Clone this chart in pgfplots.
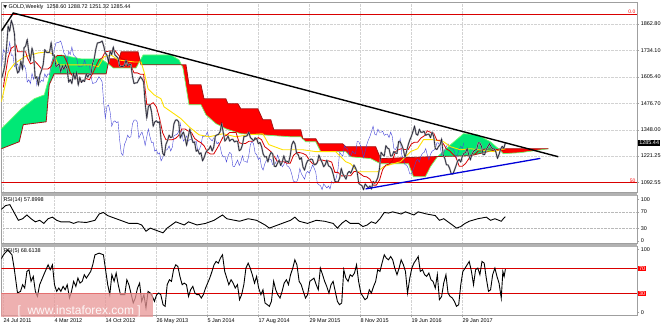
\documentclass[border=0pt]{standalone}
\usepackage{fontspec}
\setmainfont{Liberation Sans}
\newfontfamily\dejavu{DejaVu Sans}
\usepackage{pgfplots}
\usepackage{pgfplotstable}
\usepgfplotslibrary{fillbetween}
\pgfplotsset{compat=1.18}
\definecolor{cgreen}{RGB}{0,232,118}
\definecolor{cred}{RGB}{255,0,0}
\definecolor{tenkan}{RGB}{215,0,0}
\definecolor{kijun}{RGB}{255,225,0}
\definecolor{spanb}{RGB}{165,20,20}
\definecolor{spana}{RGB}{110,250,110}
\definecolor{chikou}{RGB}{70,70,215}
\definecolor{candle}{RGB}{35,35,55}
\definecolor{wm}{RGB}{232,150,150}
\newcommand{\tf}{\fontsize{5.5}{6.5}\selectfont}

\pgfplotstableread[row sep=\\]{
w c\\
-1 1601\\ 0 1628\\ 1 1663\\ 2 1745\\ 3 1852\\ 4 1828\\ 5 1880\\ 6 1856\\ 7 1813\\ 8 1657\\ 9 1624\\ 10 1636\\
11 1682\\ 12 1642\\ 13 1747\\ 14 1755\\ 15 1788\\ 16 1724\\ 17 1685\\ 18 1746\\ 19 1711\\ 20 1599\\
21 1606\\ 22 1565\\ 23 1616\\ 24 1638\\ 25 1665\\ 26 1738\\ 27 1725\\ 28 1723\\ 29 1725\\ 30 1773\\
31 1710\\ 32 1712\\ 33 1655\\ 34 1662\\ 35 1668\\ 36 1630\\ 37 1659\\ 38 1642\\ 39 1663\\ 40 1645\\
41 1580\\ 42 1592\\ 43 1573\\ 44 1622\\ 45 1594\\ 46 1627\\ 47 1565\\ 48 1604\\ 49 1578\\ 50 1590\\
51 1583\\ 52 1620\\ 53 1604\\ 54 1620\\ 55 1617\\ 56 1671\\ 57 1692\\ 58 1739\\ 59 1770\\ 60 1772\\
61 1774\\ 62 1780\\ 63 1755\\ 64 1722\\ 65 1711\\ 66 1678\\ 67 1730\\ 68 1714\\ 69 1751\\ 70 1712\\
71 1705\\ 72 1696\\ 73 1657\\ 74 1656\\ 75 1656\\ 76 1661\\ 77 1687\\ 78 1659\\ 79 1667\\ 80 1666\\
81 1609\\ 82 1573\\ 83 1576\\ 84 1577\\ 85 1592\\ 86 1606\\ 87 1596\\ 88 1581\\ 89 1477\\ 90 1404\\
91 1462\\ 92 1469\\ 93 1435\\ 94 1365\\ 95 1386\\ 96 1392\\ 97 1383\\ 98 1387\\ 99 1297\\ 100 1234\\
101 1223\\ 102 1277\\ 103 1295\\ 104 1322\\ 105 1310\\ 106 1314\\ 107 1376\\ 108 1395\\ 109 1396\\ 110 1387\\
111 1308\\ 112 1325\\ 113 1337\\ 114 1310\\ 115 1272\\ 116 1315\\ 117 1352\\ 118 1314\\ 119 1286\\ 120 1288\\
121 1244\\ 122 1251\\ 123 1230\\ 124 1236\\ 125 1197\\ 126 1213\\ 127 1237\\ 128 1248\\ 129 1254\\ 130 1270\\
131 1245\\ 132 1263\\ 133 1318\\ 134 1323\\ 135 1326\\ 136 1339\\ 137 1379\\ 138 1334\\ 139 1293\\ 140 1303\\
141 1318\\ 142 1293\\ 143 1301\\ 144 1302\\ 145 1289\\ 146 1293\\ 147 1292\\ 148 1246\\ 149 1252\\ 150 1274\\
151 1316\\ 152 1316\\ 153 1320\\ 154 1337\\ 155 1310\\ 156 1303\\ 157 1294\\ 158 1309\\ 159 1304\\ 160 1280\\
161 1287\\ 162 1267\\ 163 1231\\ 164 1216\\ 165 1218\\ 166 1192\\ 167 1222\\ 168 1238\\ 169 1231\\ 170 1171\\
171 1169\\ 172 1185\\ 173 1201\\ 174 1175\\ 175 1192\\ 176 1222\\ 177 1195\\ 178 1195\\ 179 1189\\ 180 1223\\
181 1276\\ 182 1293\\ 183 1279\\ 184 1234\\ 185 1227\\ 186 1204\\ 187 1213\\ 188 1167\\ 189 1152\\ 190 1182\\
191 1199\\ 192 1201\\ 193 1206\\ 194 1203\\ 195 1178\\ 196 1179\\ 197 1189\\ 198 1225\\ 199 1205\\ 200 1190\\
201 1168\\ 202 1179\\ 203 1201\\ 204 1173\\ 205 1168\\ 206 1157\\ 207 1131\\ 208 1098\\ 209 1095\\ 210 1094\\
211 1113\\ 212 1160\\ 213 1134\\ 214 1121\\ 215 1108\\ 216 1137\\ 217 1146\\ 218 1137\\ 219 1156\\ 220 1177\\
221 1162\\ 222 1142\\ 223 1088\\ 224 1081\\ 225 1076\\ 226 1057\\ 227 1085\\ 228 1075\\ 229 1065\\ 230 1075\\
231 1060\\ 232 1097\\ 233 1088\\ 234 1098\\ 235 1117\\ 236 1158\\ 237 1239\\ 238 1227\\ 239 1221\\ 240 1271\\
241 1259\\ 242 1255\\ 243 1220\\ 244 1222\\ 245 1243\\ 246 1235\\ 247 1233\\ 248 1291\\ 249 1290\\ 250 1273\\
251 1252\\ 252 1213\\ 253 1243\\ 254 1275\\ 255 1298\\ 256 1316\\ 257 1340\\ 258 1366\\ 259 1327\\ 260 1322\\
261 1351\\ 262 1336\\ 263 1336\\ 264 1341\\ 265 1321\\ 266 1326\\ 267 1327\\ 268 1310\\ 269 1337\\ 270 1316\\
271 1257\\ 272 1252\\ 273 1266\\ 274 1275\\ 275 1304\\ 276 1225\\ 277 1208\\ 278 1178\\ 279 1177\\ 280 1161\\
281 1134\\ 282 1133\\ 283 1151\\ 284 1173\\ 285 1196\\ 286 1204\\ 287 1191\\ 288 1220\\ 289 1234\\ 290 1238\\
291 1257\\ 292 1226\\ 293 1202\\ 294 1229\\ 295 1244\\ 296 1249\\ 297 1254\\ 298 1285\\ 299 1284\\ 300 1268\\
301 1227\\ 302 1228\\ 303 1253\\ 304 1267\\ 305 1280\\ 306 1266\\ 307 1255\\ 308 1256\\ 309 1241\\ 310 1209\\
311 1228\\ 312 1254\\ 313 1268\\ 314 1258\\ 315 1285.44\\
}\price

\pgfplotstableread[row sep=\\]{
w p\\
0 1555\\ 3 1700\\ 5 1745\\ 8 1760\\ 9 1728\\ 14 1728\\ 15 1700\\ 17 1669\\ 20 1680\\ 22 1663\\
24 1644\\ 28 1644\\ 30 1656\\ 32 1695\\ 34 1710\\ 38 1708\\ 40 1676\\ 42 1625\\ 44 1604\\ 46 1600\\
48 1583\\ 50 1583\\ 52 1597\\ 54 1592\\ 56 1622\\ 58 1655\\ 60 1688\\ 62 1698\\ 64 1728\\ 70 1734\\
72 1714\\ 74 1695\\ 76 1690\\ 78 1678\\ 80 1660\\ 82 1625\\ 84 1625\\ 86 1618\\ 88 1618\\ 90 1470\\
92 1470\\ 94 1480\\ 96 1460\\ 98 1404\\ 100 1333\\ 102 1300\\ 106 1300\\ 108 1306\\ 110 1320\\ 112 1352\\
114 1352\\ 116 1342\\ 118 1335\\ 120 1306\\ 122 1294\\ 124 1285\\ 126 1270\\ 128 1240\\ 130 1230\\ 132 1230\\
134 1256\\ 136 1285\\ 138 1315\\ 140 1321\\ 142 1335\\ 146 1335\\ 148 1285\\ 150 1281\\ 152 1282\\ 154 1292\\
156 1292\\ 158 1300\\ 160 1310\\ 162 1300\\ 164 1266\\ 166 1254\\ 168 1241\\ 170 1218\\ 172 1193\\ 176 1193\\
178 1185\\ 180 1185\\ 182 1223\\ 184 1237\\ 186 1237\\ 188 1233\\ 190 1225\\ 192 1201\\ 194 1183\\ 196 1183\\
198 1201\\ 200 1201\\ 202 1197\\ 204 1197\\ 206 1191\\ 208 1141\\ 210 1141\\ 212 1124\\ 216 1124\\ 218 1125\\
220 1145\\ 222 1145\\ 224 1134\\ 226 1122\\ 228 1119\\ 230 1108\\ 232 1079\\ 234 1079\\ 236 1103\\ 238 1155\\
240 1177\\ 242 1181\\ 244 1196\\ 246 1241\\ 248 1252\\ 250 1256\\ 252 1252\\ 254 1252\\ 256 1279\\ 258 1288\\
260 1288\\ 262 1308\\ 264 1318\\ 266 1343\\ 268 1336\\ 270 1332\\ 272 1297\\ 274 1297\\ 276 1281\\ 278 1255\\
280 1246\\ 282 1230\\ 284 1214\\ 286 1171\\ 288 1171\\ 290 1184\\ 292 1207\\ 294 1230\\ 296 1230\\ 298 1245\\
300 1245\\ 302 1255\\ 308 1255\\ 310 1250\\ 315 1247\\
}\tenkan

\pgfplotstableread[row sep=\\]{
w p\\
-1.25 1484\\ 3.1 1630\\ 6.9 1669\\ 13.2 1703\\ 21.9 1722\\ 28.2 1727\\ 31.9 1712\\ 34.4 1664\\ 55.1 1664\\
59.5 1654\\ 63.2 1703\\ 67.6 1712\\ 72.0 1688\\ 82.0 1678\\ 86.4 1678\\ 88.3 1630\\ 90.8 1547\\ 94.6 1518\\
98.9 1499\\ 100.8 1460\\ 107.1 1426\\ 111.5 1402\\ 116.5 1363\\ 122.7 1324\\ 129.0 1314\\ 137.8 1329\\
145.9 1314\\ 154.0 1324\\ 162.8 1329\\ 166.6 1276\\ 175.3 1251\\ 187.9 1251\\ 196.0 1242\\ 208.5 1242\\
214.8 1193\\ 217.9 1183\\ 222.3 1144\\ 234.8 1144\\ 238.6 1169\\ 249.2 1193\\ 255.5 1242\\ 259.9 1256\\
263.6 1300\\ 269.9 1300\\ 276.2 1290\\ 280.5 1266\\ 286.8 1251\\ 293.1 1256\\ 307.5 1242\\ 315.0 1256\\
}\kijun

\pgfplotstableread[row sep=\\]{
w p\\
-1.25 1256\\ 10.0 1290\\ 12.5 1373\\ 26.9 1387\\ 28.8 1567\\ 31.9 1620\\ 64.5 1620\\ 66.4 1693\\
72.6 1693\\ 73.9 1727\\ 84.5 1727\\ 86.4 1664\\ 114.6 1664\\ 116.5 1567\\ 124.0 1567\\ 125.9 1499\\
139.6 1499\\ 140.9 1475\\ 147.2 1475\\ 149.0 1450\\ 159.7 1450\\ 162.8 1397\\ 167.8 1397\\ 169.7 1348\\
186.6 1348\\ 187.9 1305\\ 196.0 1305\\ 197.9 1280\\ 212.9 1280\\ 214.8 1266\\ 233.6 1266\\ 236.7 1208\\
268.0 1217\\ 293.1 1222\\ 311.9 1256\\ 341.9 1256\\
}\spanB

\pgfplotstableread[row sep=\\]{
w p\\
-1.25 1353\\ 11.3 1450\\ 19.4 1499\\ 25.7 1518\\ 28.8 1606\\ 31.3 1703\\ 36.3 1712\\ 48.8 1693\\
61.4 1693\\ 65.8 1669\\ 68.9 1649\\ 83.3 1649\\ 87.7 1712\\ 105.2 1712\\ 110.2 1688\\ 112.7 1649\\
116.5 1470\\ 124.0 1470\\ 127.1 1421\\ 133.4 1378\\ 139.6 1353\\ 149.0 1329\\ 161.6 1324\\ 180.4 1314\\
186.6 1314\\ 189.7 1290\\ 196.0 1290\\ 199.1 1242\\ 214.8 1242\\ 217.9 1217\\ 230.4 1208\\ 236.7 1183\\
254.2 1183\\ 257.3 1120\\ 264.8 1120\\ 268.0 1169\\ 272.4 1217\\ 280.5 1275\\ 288.7 1329\\ 297.4 1324\\
305.6 1290\\ 310.6 1256\\ 313.7 1232\\ 324.4 1237\\ 341.9 1256\\
}\spanA

\pgfplotstableread[row sep=\\]{
w r\\
-1.25 75.7\\ 1.42 84.8\\ 4.09 87.1\\ 6.76 68.2\\ 9.43 49.2\\ 12.1 53.0\\ 14.8 62.1\\ 17.4 53.0\\ 20.1 45.5\\
22.8 49.2\\ 25.4 41.7\\ 28.1 53.0\\ 30.8 56.8\\ 33.5 49.2\\ 36.1 45.5\\ 41.5 45.5\\ 44.1 41.7\\ 46.8 45.5\\
52.1 43.9\\ 57.5 49.2\\ 60.1 64.4\\ 62.8 68.2\\ 65.5 60.6\\ 68.1 56.8\\ 73.5 49.2\\ 78.8 41.7\\ 84.2 41.7\\
86.8 37.9\\ 89.5 22.7\\ 92.2 30.3\\ 94.8 26.5\\ 97.5 22.7\\ 100.2 18.9\\ 102.8 30.3\\ 105.5 37.9\\ 108.2 45.5\\
110.8 41.7\\ 113.5 37.9\\ 116.2 45.5\\ 121.5 37.9\\ 126.9 41.7\\ 132.2 49.2\\ 137.5 62.1\\ 140.2 53.0\\
148.2 46.9\\ 153.6 53.0\\ 158.9 49.2\\ 164.2 37.9\\ 166.9 30.3\\ 169.6 34.1\\ 174.9 41.7\\ 180.2 49.2\\
182.9 56.8\\ 185.6 46.9\\ 190.9 41.7\\ 196.3 49.2\\ 201.6 46.9\\ 206.9 41.7\\ 209.6 30.3\\ 212.3 41.7\\
214.9 49.2\\ 217.6 41.7\\ 222.9 41.7\\ 225.6 34.1\\ 228.3 37.9\\ 230.9 45.5\\ 233.6 41.7\\ 236.3 53.0\\
239.0 68.2\\ 241.6 66.7\\ 244.3 69.7\\ 249.6 64.4\\ 252.3 69.7\\ 257.6 62.1\\ 260.3 69.7\\ 265.6 64.4\\
271.0 60.6\\ 273.6 49.2\\ 276.3 53.0\\ 279.0 45.5\\ 281.7 37.9\\ 284.3 30.3\\ 287.0 34.1\\ 289.7 41.7\\
292.3 46.9\\ 297.7 53.0\\ 303.0 56.8\\ 305.7 49.2\\ 308.4 53.0\\ 312.4 46.9\\ 313.7 53.0\\ 315.0 57.9\\
}\rsiA

\pgfplotstableread[row sep=\\]{
w r\\
-1.25 85\\ 0.1 91.6\\ 2.8 99.5\\ 5.4 91.6\\ 6.8 70.4\\ 8.9 30.7\\ 10.8 33.4\\ 12.1 44.0\\ 13.4 38.7\\ 14.8 65.1\\
16.1 67.8\\ 17.4 49.3\\ 18.8 57.2\\ 20.1 33.4\\ 21.4 25.4\\ 22.8 44.0\\ 25.4 59.9\\ 28.1 75.7\\ 29.4 67.8\\
30.8 75.7\\ 32.1 44.0\\ 33.5 33.4\\ 34.8 38.7\\ 36.1 33.4\\ 37.5 41.3\\ 38.8 36.0\\ 40.1 44.0\\ 41.5 22.8\\
42.8 33.4\\ 44.1 49.3\\ 45.5 41.3\\ 46.8 54.5\\ 48.1 46.6\\ 49.5 49.3\\ 50.8 59.9\\ 52.1 54.5\\ 53.5 59.9\\
54.8 65.1\\ 56.1 75.7\\ 57.5 91.6\\ 60.1 94.2\\ 62.8 91.6\\ 65.5 44.0\\ 66.8 28.1\\ 68.1 59.9\\ 69.5 49.3\\
70.8 62.5\\ 72.1 44.0\\ 73.5 28.1\\ 76.2 28.1\\ 77.5 51.9\\ 78.8 44.0\\ 81.5 14.9\\ 82.8 22.8\\ 84.2 38.7\\
85.5 46.6\\ 86.8 17.5\\ 88.2 28.1\\ 89.5 7.0\\ 90.8 33.4\\ 92.2 30.7\\ 93.5 25.4\\ 94.8 17.5\\ 96.2 28.1\\
97.5 30.7\\ 98.8 28.1\\ 100.2 12.2\\ 101.5 9.6\\ 102.8 44.0\\ 104.2 51.9\\ 105.5 49.3\\ 106.8 67.8\\
108.2 75.7\\ 109.5 73.1\\ 110.8 57.2\\ 112.2 44.0\\ 113.5 46.6\\ 114.9 44.0\\ 116.2 25.4\\ 117.5 36.0\\
118.9 41.3\\ 120.2 30.7\\ 121.5 28.1\\ 122.9 28.1\\ 124.2 22.8\\ 125.5 28.1\\ 126.9 38.7\\ 128.2 46.6\\
129.5 54.5\\ 130.9 65.1\\ 132.2 75.7\\ 133.5 81.0\\ 134.9 78.3\\ 136.2 86.3\\ 137.5 91.6\\ 138.9 65.1\\
140.2 54.5\\ 141.5 44.0\\ 142.9 51.9\\ 144.2 46.6\\ 145.5 38.7\\ 146.9 44.0\\ 148.2 20.2\\ 149.5 28.1\\
150.9 44.0\\ 152.2 70.4\\ 153.6 78.3\\ 154.9 70.4\\ 156.2 59.9\\ 157.6 46.6\\ 158.9 57.2\\ 160.2 38.7\\
161.6 28.1\\ 162.9 36.0\\ 164.2 14.9\\ 165.6 12.2\\ 166.9 9.6\\ 168.2 17.5\\ 169.6 49.3\\ 170.9 36.0\\
172.2 28.1\\ 173.6 22.8\\ 174.9 33.4\\ 176.2 46.6\\ 177.6 51.9\\ 178.9 44.0\\ 180.2 59.9\\ 181.6 70.4\\
182.9 83.6\\ 184.2 75.7\\ 185.6 49.3\\ 186.9 44.0\\ 188.2 33.4\\ 189.6 22.8\\ 190.9 28.1\\ 192.3 49.3\\
193.6 51.9\\ 194.9 54.5\\ 196.3 44.0\\ 197.6 36.0\\ 198.9 70.4\\ 200.3 59.9\\ 201.6 49.3\\ 202.9 41.3\\
204.3 30.7\\ 205.6 44.0\\ 206.9 49.3\\ 209.6 17.5\\ 210.9 12.2\\ 212.3 14.9\\ 213.6 67.8\\ 214.9 54.5\\
216.3 49.3\\ 217.6 59.9\\ 218.9 57.2\\ 220.3 62.5\\ 221.6 75.7\\ 222.9 49.3\\ 224.3 30.7\\ 225.6 25.4\\
226.9 20.2\\ 228.3 22.8\\ 229.6 36.0\\ 230.9 30.7\\ 232.3 41.3\\ 233.6 49.3\\ 234.9 67.8\\ 236.3 65.1\\
237.6 78.3\\ 239.0 91.6\\ 240.3 86.3\\ 241.6 83.6\\ 243.0 88.9\\ 244.3 83.6\\ 245.6 70.4\\ 247.0 59.9\\
248.3 70.4\\ 249.6 83.6\\ 251.0 75.7\\ 252.3 65.1\\ 253.6 30.7\\ 255.0 54.5\\ 256.3 70.4\\ 257.6 78.3\\
259.0 83.6\\ 260.3 88.9\\ 261.6 65.1\\ 263.0 67.8\\ 264.3 59.9\\ 265.6 57.2\\ 267.0 62.5\\ 268.3 51.9\\
269.6 49.3\\ 271.0 38.7\\ 272.3 59.9\\ 273.6 20.2\\ 275.0 25.4\\ 276.3 46.6\\ 277.7 59.9\\ 279.0 30.7\\
280.3 25.4\\ 281.7 22.8\\ 283.0 17.5\\ 284.3 9.6\\ 285.7 12.2\\ 287.0 44.0\\ 288.3 65.1\\ 289.7 70.4\\
291.0 75.7\\ 292.3 81.0\\ 293.7 65.1\\ 295.0 44.0\\ 296.3 67.8\\ 297.7 70.4\\ 299.0 59.9\\ 300.3 81.0\\
301.7 78.3\\ 303.0 54.5\\ 304.4 33.4\\ 305.7 36.0\\ 307.0 59.9\\ 308.4 70.4\\ 309.7 57.2\\ 311.0 46.6\\
312.4 22.8\\ 313.4 65.0\\ 314.2 57.0\\ 315.0 68.6\\
}\rsiB

\pgfplotsset{mt/.style={
  scale only axis, width=637pt, xmin=-1.25, xmax=397.6,
  axis line style={draw=gray!75},
  xtick={0,32,...,288},
  tick style={draw=gray!75},
  major tick length=2pt, tick align=outside,
  ytick pos=right, yticklabel pos=right,
  yticklabel style={font=\tf, inner xsep=1.5pt},
  xmajorgrids, major grid style={densely dotted, draw=gray!35},
}}

\begin{document}
\begin{tikzpicture}
\path (0,0) rectangle (665pt,325pt);

% ---------- main price panel ----------
\begin{axis}[mt, at={(0pt,325pt)}, anchor=north west, height=191pt,
  ymin=1042.6, ymax=1969.6, ymajorgrids,
  xticklabels={}, xtick style={draw=none},
  ytick={1092.55,1221.25,1348,1476.7,1605.4,1734.1,1862.8},
  yticklabels={1092.55,1221.25,1348.00,1476.70,1605.40,1734.10,1862.80}]
\addplot[name path=A, draw=none, forget plot] table[x=w,y=p] {\spanA};
\addplot[name path=B, draw=none, forget plot] table[x=w,y=p] {\spanB};
\addplot[fill=cgreen, draw=none] fill between[of=A and B, soft clip={domain=-1.25:65.8}];
\addplot[fill=cred, draw=none] fill between[of=A and B, soft clip={domain=65.8:85.8}];
\addplot[fill=cgreen, draw=none] fill between[of=A and B, soft clip={domain=85.8:111.7}];
\addplot[fill=cred, draw=none] fill between[of=A and B, soft clip={domain=111.7:272.5}];
\addplot[fill=cgreen, draw=none] fill between[of=A and B, soft clip={domain=272.5:310.8}];
\addplot[fill=cred, draw=none] fill between[of=A and B, soft clip={domain=310.8:341.9}];
\addplot[spana, line width=0.7pt] table[x=w,y=p] {\spanA};
\addplot[spanb, line width=0.8pt] table[x=w,y=p] {\spanB};
% chikou span: closes shifted back 26 weeks
\addplot[chikou, line width=0.4pt] table[x expr=\thisrow{w}-26, y=c] {\price};
\addplot[kijun, line width=0.9pt] table[x=w,y=p] {\kijun};
\addplot[tenkan, line width=0.8pt] table[x=w,y=p] {\tenkan};
\addplot[gray!70, line width=1.6pt, line join=bevel] table[x=w,y=c] {\price};
\addplot[candle, line width=0.6pt] table[x=w,y=c] {\price};
% horizontal levels
\addplot[red!85!black, line width=0.6pt] coordinates {(-1.25,1911) (397.6,1911)};
\addplot[red!85!black, line width=0.6pt] coordinates {(-1.25,1092.55) (397.6,1092.55)};
% trend lines
\addplot[black, line width=1.4pt] coordinates {(-1.25,1828) (6.26,1916) (348.2,1217)};
\addplot[blue!85!black, line width=1.3pt] coordinates {(227.3,1060.6) (336.9,1209)};
\coordinate (L0) at (axis cs:397,1911);
\coordinate (L50) at (axis cs:397,1090);
\coordinate (LP) at (axis cs:397.6,1285.44);
\end{axis}
\node[anchor=south east, font=\fontsize{5}{6}\selectfont, text=red, inner sep=0.5pt] at (L0) {0.0};
\node[anchor=south east, font=\fontsize{5}{6}\selectfont, text=red, inner sep=0.5pt] at (L50) {50};
\node[anchor=west, fill=black, text=white, font=\tf, inner sep=1pt, xshift=1pt] at (LP) {1285.44};

% ---------- RSI(14) ----------
\begin{axis}[mt, at={(0pt,131pt)}, anchor=north west, height=48pt,
  ymin=-7, ymax=109, xticklabels={}, xtick style={draw=none},
  ytick={0,30,70,100}, yticklabels={0,30,70,100}]
\addplot[gray!55, densely dotted] coordinates {(-1.25,70) (397.6,70)};
\addplot[gray!55, densely dotted] coordinates {(-1.25,30) (397.6,30)};
\addplot[black, line width=0.9pt] table[x=w,y=r] {\rsiA};
\end{axis}

% ---------- RSI(5) ----------
\begin{axis}[mt, at={(0pt,80pt)}, anchor=north west, height=69pt,
  ymin=-4.8, ymax=104.8, xtick pos=bottom,
  ytick={0,100}, yticklabels={0,100},
  xticklabels={24 Jul 2011,4 Mar 2012,14 Oct 2012,26 May 2013,5 Jan 2014,17 Aug 2014,29 Mar 2015,8 Nov 2015,19 Jun 2016,29 Jan 2017},
  xticklabel style={font=\tf, anchor=north west, inner xsep=0pt, inner ysep=1pt}]
\addplot[red!85!black, line width=0.6pt] coordinates {(-1.25,70) (397.6,70)};
\addplot[red!85!black, line width=0.6pt] coordinates {(-1.25,30) (397.6,30)};
\addplot[black, line width=0.9pt] table[x=w,y=r] {\rsiB};
\coordinate (R70) at (axis cs:397.6,70);
\coordinate (R30) at (axis cs:397.6,30);
\end{axis}
\node[anchor=west, fill=red, text=white, font=\tf, inner sep=0.8pt, xshift=1pt] at (R70) {70};
\node[anchor=west, fill=red, text=white, font=\tf, inner sep=0.8pt, xshift=1pt] at (R30) {30};

% separators
\fill[gray!60] (0,131pt) rectangle (637pt,134pt);
\fill[gray!60] (0,80pt) rectangle (637pt,83pt);

% texts
\node[anchor=west, font=\tf, inner sep=0] at (2pt,320pt) {{\dejavu\fontsize{4.5}{5}\selectfont ▼}\ GOLD,Weekly\ \ 1258.60 1288.72 1251.32 1285.44};
\node[anchor=west, font=\tf, inner sep=0] at (2pt,127pt) {RSI(14) 57.8998};
\node[anchor=west, font=\tf, inner sep=0] at (2pt,75.5pt) {RSI(5) 68.6138};

% watermark
\fill[wm, opacity=0.75] (0,9pt) rectangle (152pt,33pt);
\node[font=\fontsize{12}{13}\selectfont, text=white, opacity=0.9, inner sep=0] at (78pt,15pt) {[\ \ www.instaforex.com\ ]};
\end{tikzpicture}
\end{document}
